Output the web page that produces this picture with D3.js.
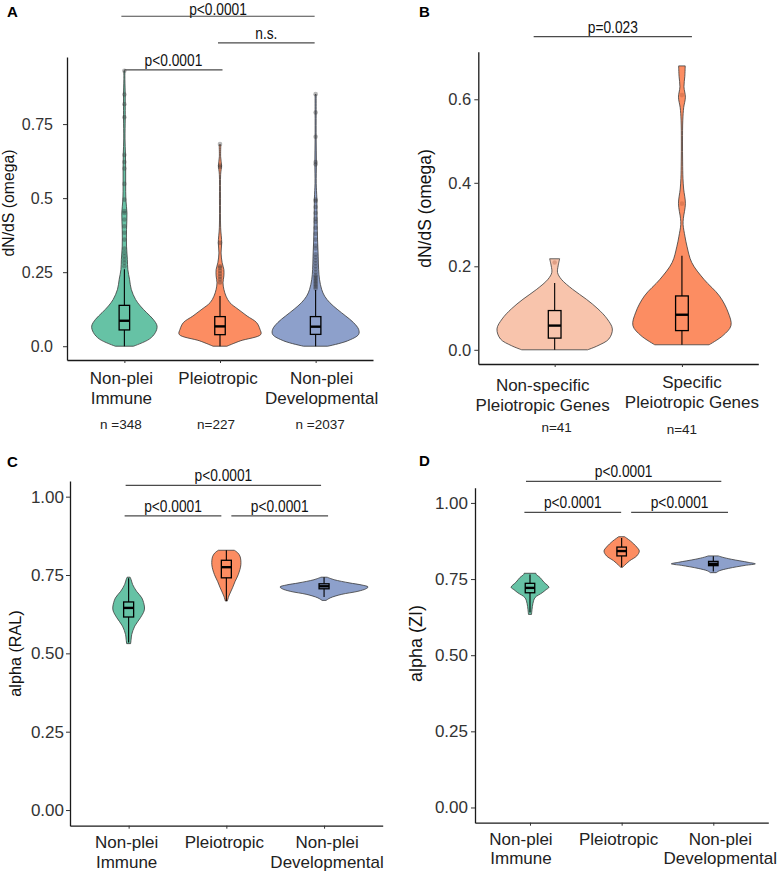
<!DOCTYPE html>
<html><head><meta charset="utf-8">
<script src="https://cdn.jsdelivr.net/npm/d3@7"></script>
<style>
body{margin:0;background:#fff;}
svg{display:block;font-family:"Liberation Sans",Arial,Helvetica,sans-serif;}
</style></head><body>
<svg id="chart" width="777" height="871"></svg>
<script>
// ================= DATA =================
const groups3 = ["Non-plei Immune", "Pleiotropic", "Non-plei Developmental"];
const groupLines3 = [["Non-plei", "Immune"], ["Pleiotropic"], ["Non-plei", "Developmental"]];
const groupsB = ["Non-specific Pleiotropic Genes", "Specific Pleiotropic Genes"];
const groupLinesB = [["Non-specific", "Pleiotropic Genes"], ["Specific", "Pleiotropic Genes"]];
const countsA = ["n =348", "n=227", "n =2037"];
const countsB = ["n=41", "n=41"];
const colors3 = ["#66C2A5", "#FC8D62", "#8DA0CB"];
const colorsB = ["#F8C4AC", "#FC8D62"];

const ticksA = [0, 0.25, 0.5, 0.75];
const tickLabelsA = ["0.0", "0.25", "0.5", "0.75"];
const ticksB = [0, 0.2, 0.4, 0.6];
const tickLabelsB = ["0.0", "0.2", "0.4", "0.6"];
const ticksCD = [0, 0.25, 0.5, 0.75, 1];
const tickLabelsCD = ["0.00", "0.25", "0.50", "0.75", "1.00"];

// violin outlines: [value, relative density]
const densImmuneA = [[0,0.21],[0.024,0.58],[0.046,0.72],[0.068,0.76],[0.091,0.67],[0.113,0.52],[0.136,0.37],[0.158,0.26],[0.192,0.16],[0.226,0.12],[0.259,0.08],[0.293,0.07],[0.338,0.05],[0.394,0.05],[0.45,0.06],[0.495,0.035],[0.55,0.03],[0.6,0.03],[0.65,0.025],[0.7,0.015],[0.77,0.02],[0.82,0.02],[0.85,0.02],[0.9,0.012],[0.93,0.012]];
const densPleioA = [[0,0.16],[0.018,0.47],[0.04,0.95],[0.057,0.93],[0.08,0.85],[0.102,0.63],[0.125,0.42],[0.147,0.23],[0.169,0.14],[0.192,0.09],[0.214,0.07],[0.237,0.09],[0.259,0.09],[0.282,0.05],[0.315,0.025],[0.349,0.04],[0.4,0.015],[0.5,0.012],[0.58,0.015],[0.61,0.035],[0.64,0.015],[0.68,0.02]];
const densDevA = [[0,0.28],[0.018,0.74],[0.04,1.0],[0.057,1.0],[0.08,0.88],[0.102,0.7],[0.125,0.5],[0.147,0.33],[0.169,0.21],[0.192,0.14],[0.226,0.09],[0.259,0.07],[0.304,0.06],[0.36,0.045],[0.42,0.035],[0.5,0.028],[0.55,0.014],[0.62,0.018],[0.7,0.012],[0.79,0.012],[0.85,0.012]];
const densNonSpecB = [[0,0.57],[0.01,0.75],[0.026,0.94],[0.05,1.0],[0.074,0.91],[0.098,0.75],[0.121,0.55],[0.145,0.31],[0.169,0.115],[0.185,0.05],[0.201,0.06],[0.218,0.087]];
const densSpecB = [[0.012,0.47],[0.034,0.71],[0.058,0.85],[0.09,0.8],[0.129,0.65],[0.169,0.38],[0.209,0.17],[0.248,0.087],[0.272,0.052],[0.3,0.02],[0.315,0.025],[0.35,0.06],[0.385,0.03],[0.41,0.018],[0.45,0.012],[0.5,0.01],[0.55,0.015],[0.58,0.03],[0.605,0.06],[0.63,0.035],[0.655,0.05],[0.68,0.057]];
const densImmuneC = [[0.531,0.045],[0.545,0.057],[0.56,0.07],[0.587,0.14],[0.614,0.27],[0.635,0.35],[0.648,0.36],[0.677,0.3],[0.698,0.18],[0.72,0.09],[0.735,0.057],[0.743,0.034]];
const densPleioC = [[0.667,0.023],[0.683,0.057],[0.709,0.14],[0.73,0.2],[0.751,0.27],[0.783,0.33],[0.81,0.31],[0.822,0.25],[0.829,0.18]];
const densDevC = [[0.669,0.045],[0.677,0.14],[0.688,0.39],[0.698,0.77],[0.706,0.95],[0.712,1.0],[0.718,0.86],[0.725,0.57],[0.735,0.23],[0.743,0.07]];
const densImmuneD = [[0.634,0.036],[0.65,0.048],[0.67,0.07],[0.689,0.12],[0.705,0.29],[0.715,0.38],[0.723,0.45],[0.74,0.33],[0.755,0.24],[0.765,0.15],[0.769,0.14]];
const densPleioD = [[0.789,0.024],[0.795,0.07],[0.81,0.19],[0.826,0.36],[0.842,0.42],[0.855,0.36],[0.875,0.21],[0.889,0.07]];
const densDevD = [[0.771,0.07],[0.777,0.14],[0.785,0.36],[0.795,0.76],[0.8,1.0],[0.805,0.83],[0.815,0.43],[0.822,0.21],[0.826,0.12]];

// box stats: [q1, median, q3, whiskerLow, whiskerHigh]
const boxA = [[0.055,0.086,0.138,0,0.26],[0.039,0.067,0.1,0,0.17],[0.04,0.066,0.1,0,0.19]];
const boxB = [[0.028,0.058,0.094,0,0.16],[0.046,0.084,0.129,0.012,0.225]];
const boxC = [[0.616,0.645,0.664,0.535,0.74],[0.741,0.775,0.797,0.667,0.829],[0.706,0.714,0.722,0.68,0.743]];
const boxD = [[0.705,0.721,0.736,0.64,0.765],[0.826,0.842,0.855,0.789,0.885],[0.794,0.8,0.808,0.775,0.825]];

// outliers
const outImmuneA = [0.93,0.85,0.817,0.773,0.646,0.622,0.6,0.548,0.495,0.456,0.45,0.428,0.405,0.383,0.36,0.33,0.316,0.304,0.293,0.282,0.27];
const outPleioA = [0.683,0.61,0.605,0.349,0.27,0.265,0.255,0.245,0.235,0.226,0.215];
const outDevA = [0.851,0.789,0.707,0.622,0.614,0.495,0.49,0.47,0.45,0.43,0.42,0.4,0.38,0.36,0.34,0.33,0.31,0.3,0.29,0.28,0.27,0.26,0.25,0.24,0.235,0.23,0.225,0.22,0.215,0.21,0.205,0.2,0.195];
const outNonSpecB = [0.209];
const outSpecB = [0.61, 0.35];

// significance brackets: [group index a, group index b, y value, label]
const sigA = [[0,2,1.114,"p<0.0001"],[1,2,1.024,"n.s."],[0,1,0.933,"p<0.0001"]];
const sigB = [[0,1,0.75,"p=0.023"]];
const sigC = [[0,2,1.036,"p<0.0001"],[0,1,0.939,"p<0.0001"],[1,2,0.939,"p<0.0001"]];
const sigD = [[0,2,1.071,"p<0.0001"],[0,1,0.969,"p<0.0001"],[1,2,0.969,"p<0.0001"]];

// ================= DRAWING =================
const svg = d3.select("#chart");

function drawPanel(p) {
  const g = svg.append("g");
  const x = d3.scalePoint().domain(p.groups).range([p.x0, p.x1]).padding(0.6);
  const y = d3.scaleLinear().domain(p.yDom).range([p.yBottom, p.yTop]);
  const w = d3.scaleLinear().domain([0, 1]).range([0, p.maxHalf]);

  // axes
  const ya = g.append("g").attr("transform", `translate(${p.x0},0)`)
    .call(d3.axisLeft(y).tickValues(p.ticks).tickFormat((d, i) => p.tickLabels[i])
      .tickSize(4).tickSizeOuter(0).tickPadding(p.tickPad));
  const xa = g.append("g").attr("transform", `translate(0,${p.yBottom})`)
    .call(d3.axisBottom(x).tickSize(3).tickSizeOuter(0).tickFormat(""));
  [ya, xa].forEach(a => {
    a.select(".domain").attr("stroke", "#1a1a1a").attr("stroke-width", 1.3);
    a.selectAll(".tick line").attr("stroke", "#333").attr("stroke-width", 1);
  });
  ya.selectAll(".tick text").attr("font-size", p.tickFont).attr("fill", "#333")
    .attr("font-family", "Liberation Sans, Arial, sans-serif");

  // violins
  p.groups.forEach((grp, i) => {
    const cx = x(grp);
    const area = d3.area().curve(d3.curveCatmullRom.alpha(0.5))
      .y(d => y(d[0])).x0(d => cx - w(d[1])).x1(d => cx + w(d[1]));
    g.append("path").datum(p.dens[i]).attr("d", area)
      .attr("fill", p.colors[i]).attr("stroke", "#3a3a3a").attr("stroke-width", 0.8);
  });
  // outliers
  p.groups.forEach((grp, i) => {
    const cx = x(grp);
    (p.outliers[i] || []).forEach(v => {
      g.append("circle").attr("cx", cx).attr("cy", y(v)).attr("r", 2.3)
        .attr("fill", p.outColor).attr("fill-opacity", 0.35);
    });
  });
  // boxes
  p.groups.forEach((grp, i) => {
    const cx = x(grp), b = p.box[i], hw = p.boxW / 2;
    g.append("line").attr("x1", cx).attr("x2", cx).attr("y1", y(b[3])).attr("y2", y(b[0]))
      .attr("stroke", "#000").attr("stroke-width", 1.1);
    g.append("line").attr("x1", cx).attr("x2", cx).attr("y1", y(b[2])).attr("y2", y(b[4]))
      .attr("stroke", "#000").attr("stroke-width", 1.1);
    g.append("rect").attr("x", cx - hw).attr("width", p.boxW)
      .attr("y", y(b[2])).attr("height", y(b[0]) - y(b[2]))
      .attr("fill", "none").attr("stroke", "#000").attr("stroke-width", 1.3);
    g.append("line").attr("x1", cx - hw).attr("x2", cx + hw).attr("y1", y(b[1])).attr("y2", y(b[1]))
      .attr("stroke", "#000").attr("stroke-width", 2.4);
  });

  // category labels
  p.groups.forEach((grp, i) => {
    p.lines[i].forEach((ln, k) => {
      g.append("text").attr("x", x(grp) + p.labelDx[i]).attr("y", p.labelBase[i][k])
        .attr("text-anchor", "middle").attr("font-size", 17).attr("fill", "#222").text(ln);
    });
    if (p.counts) {
      g.append("text").attr("x", x(grp) + p.countDx[i]).attr("y", p.countBase[i])
        .attr("text-anchor", "middle").attr("font-size", 13.5).attr("fill", "#222").text(p.counts[i]);
    }
  });

  // significance brackets
  p.sig.forEach((s, j) => {
    const xa1 = x(p.groups[s[0]]) + p.sigDx[j][0];
    const xb1 = x(p.groups[s[1]]) + p.sigDx[j][1];
    const yy = y(s[2]);
    g.append("line").attr("x1", xa1).attr("x2", xb1).attr("y1", yy).attr("y2", yy)
      .attr("stroke", "#4a4a4a").attr("stroke-width", 1.2);
    const base = Math.max(yy - 4, 14.5);
    g.append("text").attr("transform", `translate(${(xa1 + xb1) / 2},${base}) scale(0.86,1)`)
      .attr("text-anchor", "middle").attr("font-size", 16).attr("fill", "#111").text(s[3]);
  });

  // y title
  g.append("text").attr("transform", `translate(${p.titleX},${p.titleY}) rotate(-90)`)
    .attr("text-anchor", "middle").attr("font-size", p.titleFont).attr("fill", "#111").text(p.title);
  // panel letter
  g.append("text").attr("x", p.letterX).attr("y", p.letterY)
    .attr("font-size", 15).attr("font-weight", "bold").attr("fill", "#000").text(p.letter);
}

drawPanel({
  groups: groups3, lines: groupLines3, colors: colors3,
  dens: [densImmuneA, densPleioA, densDevA], box: boxA,
  outliers: [outImmuneA, outPleioA, outDevA], outColor: "#333",
  ticks: ticksA, tickLabels: tickLabelsA, sig: sigA,
  counts: countsA, countDx: [-3.5, -4, 4.5], countBase: [429, 429, 429],
  x0: 67, x1: 373, yBottom: 360, yTop: 57, yDom: [-0.0465, 0.9765],
  maxHalf: 43, boxW: 10.5, tickPad: 10, tickFont: 16,
  labelDx: [-3, -2, 6], labelBase: [[384, 404], [384], [384, 404]],
  sigDx: [[-3, -1], [-2, -1], [0, 2.5]],
  title: "dN/dS (omega)", titleX: 13.5, titleY: 203, titleFont: 15.8,
  letter: "A", letterX: 7, letterY: 17
});

drawPanel({
  groups: groupsB, lines: groupLinesB, colors: colorsB,
  dens: [densNonSpecB, densSpecB], box: boxB,
  outliers: [outNonSpecB, outSpecB], outColor: "#b05a3a",
  ticks: ticksB, tickLabels: tickLabelsB, sig: sigB,
  counts: countsB, countDx: [2, 0], countBase: [432, 433.5],
  x0: 478.3, x1: 758.3, yBottom: 364, yTop: 51.7, yDom: [-0.034, 0.714],
  maxHalf: 57.7, boxW: 12.7, tickPad: 3, tickFont: 16.5,
  labelDx: [-12, 10], labelBase: [[390.7, 410.7], [388.3, 408.3]],
  sigDx: [[-21, 10]],
  title: "dN/dS (omega)", titleX: 430.5, titleY: 208.5, titleFont: 17.5,
  letter: "B", letterX: 419, letterY: 16.5
});

drawPanel({
  groups: groups3, lines: groupLines3, colors: colors3,
  dens: [densImmuneC, densPleioC, densDevC], box: boxC,
  outliers: [[], [], []], outColor: "#333",
  ticks: ticksCD, tickLabels: tickLabelsCD, sig: sigC,
  x0: 70, x1: 382.7, yBottom: 825.7, yTop: 481, yDom: [-0.05, 1.05],
  maxHalf: 44, boxW: 10, tickPad: 2, tickFont: 17,
  labelDx: [-2, -2, 3], labelBase: [[848.3, 868.3], [848.3], [848.3, 868.3]],
  sigDx: [[-3, -3], [-4, -5], [5, 4]],
  title: "alpha (RAL)", titleX: 21, titleY: 653.5, titleFont: 16.2,
  letter: "C", letterX: 7, letterY: 467
});

drawPanel({
  groups: groups3, lines: groupLines3, colors: colors3,
  dens: [densImmuneD, densPleioD, densDevD], box: boxD,
  outliers: [[], [], []], outColor: "#333",
  ticks: ticksCD, tickLabels: tickLabelsCD, sig: sigD,
  x0: 475, x1: 768.3, yBottom: 822.7, yTop: 487.7, yDom: [-0.05, 1.05],
  maxHalf: 42, boxW: 9.5, tickPad: 3, tickFont: 17,
  labelDx: [-9, -3, 7], labelBase: [[845, 864], [845], [845, 864]],
  sigDx: [[-4, 8], [-5.6, -0.5], [9.5, 14.7]],
  title: "alpha (ZI)", titleX: 422, titleY: 643.5, titleFont: 18,
  letter: "D", letterX: 419, letterY: 466
});
</script>
</body></html>
